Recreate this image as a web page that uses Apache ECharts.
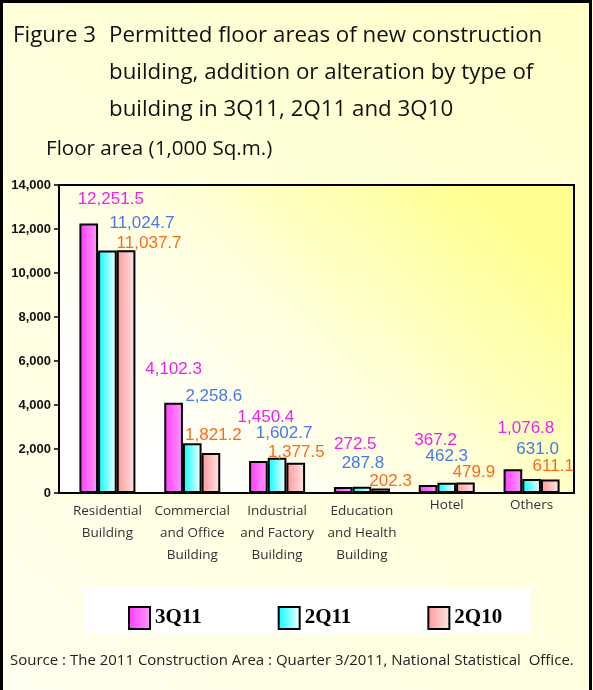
<!DOCTYPE html>
<html>
<head>
<meta charset="utf-8">
<script src="https://cdn.jsdelivr.net/npm/echarts@6/dist/echarts.min.js"></script>
<style>
  html, body { margin: 0; padding: 0; }
  #chart { width: 593px; height: 690px; }
</style>
</head>
<body>
<div id="chart"></div>
<script>
// building types (x axis)
const categories = [
  'Residential\nBuilding',
  'Commercial\nand Office\nBuilding',
  'Industrial\nand Factory\nBuilding',
  'Education\nand Health\nBuilding',
  'Hotel',
  'Others'
];
const seriesNames = ['3Q11', '2Q11', '2Q10'];
// floor area, 1,000 sq.m.
const values3Q11 = [12251.5, 4102.3, 1450.4, 272.5, 367.2, 1076.8];
const values2Q11 = [11024.7, 2258.6, 1602.7, 287.8, 462.3, 631.0];
const values2Q10 = [11037.7, 1821.2, 1377.5, 202.3, 479.9, 611.1];
const yTicks = { min: 0, max: 14000, interval: 2000 };

// where each value label sits relative to the top of its bar (as in the original chart)
const labelShift = [
  [[22, -16], [0, -25], [7.5, -35.5], [12, -34.5], [7.5, -36], [13, -32]],
  [[34.5, -19], [21.5, -38.5], [7, -16], [1, -15], [0, -18], [6, -21.5]],
  [[23, 2], [2.5, -9.5], [0.5, -2], [10, 1], [8.5, -2], [3, -5]]
];

const fills = [
  ['#FF3CFF', '#FF9CFF'],
  ['#00FFFF', '#FFFFFF'],
  ['#FF9696', '#FFE8E8']
];
const labelColors = ['#F020F0', '#4A78E8', '#FF6A1A'];
const textFont = 'Open Sans, Noto Sans, sans-serif';

// plot frame (the axis sits a little left of the first category, as in the source chart)
const plotBox = { left: 59, top: 185, right: 574, bottom: 493 };
const axisInset = 6;

const chartDom = document.getElementById('chart');
const myChart = echarts.init(chartDom);

const fmt = v => v.toLocaleString('en-US', { minimumFractionDigits: 1, maximumFractionDigits: 1 });

const makeSeries = (name, values, idx) => {
  const grad = new echarts.graphic.LinearGradient(0, 0, 1, 0, [
    { offset: 0, color: fills[idx][0] },
    { offset: 1, color: fills[idx][1] }
  ]);
  return {
    name: name,
    type: 'bar',
    barGap: '0%',
    barCategoryGap: '34%',
    itemStyle: {
      color: grad,
      borderColor: '#000',
      borderWidth: 2
    },
    data: values.map((v, i) => ({
      value: v,
      label: { offset: labelShift[idx][i] }
    })),
    label: {
      show: true,
      position: 'top',
      distance: 0,
      fontFamily: 'Liberation Sans, Arial, sans-serif',
      fontSize: 17,
      color: labelColors[idx],
      formatter: p => fmt(p.value)
    },
    z: 3
  };
};

const option = {
  backgroundColor: new echarts.graphic.LinearGradient(1, 0, 0, 1, [
    { offset: 0, color: '#FFFFC8' },
    { offset: 0.5, color: '#FFFFDE' },
    { offset: 1, color: '#FFFFEE' }
  ]),
  animation: false,
  grid: {
    left: plotBox.left + axisInset,
    right: 593 - plotBox.right,
    top: plotBox.top,
    bottom: 690 - plotBox.bottom,
    show: false
  },
  legend: {
    left: 123,
    top: 601,
    itemWidth: 21,
    itemHeight: 22,
    itemGap: 76,
    icon: 'rect',
    data: seriesNames,
    itemStyle: { borderColor: '#000', borderWidth: 2 },
    textStyle: {
      fontFamily: 'Liberation Serif, Times New Roman, serif',
      fontWeight: 'bold',
      fontSize: 21,
      color: '#000',
      padding: [4, 0, 0, 0]
    }
  },
  xAxis: {
    type: 'category',
    data: categories.map((c, i) => (i >= 4 ? { value: c, textStyle: { lineHeight: 10 } } : c)),
    axisLine: { lineStyle: { color: '#000', width: 2 } },
    axisTick: { show: false },
    axisLabel: {
      interval: 0,
      margin: 7,
      fontFamily: textFont,
      fontSize: 13.5,
      lineHeight: 22,
      color: '#333'
    }
  },
  yAxis: {
    type: 'value',
    min: yTicks.min,
    max: yTicks.max,
    interval: yTicks.interval,
    offset: axisInset,
    splitLine: { show: false },
    axisLine: { show: true, lineStyle: { color: '#000', width: 2 } },
    axisTick: { show: true, length: 5, lineStyle: { color: '#000', width: 1.5 } },
    axisLabel: {
      margin: 8,
      fontFamily: 'Liberation Sans, Arial, sans-serif',
      fontWeight: 'bold',
      fontSize: 13,
      color: '#111',
      formatter: v => v.toLocaleString('en-US')
    }
  },
  graphic: [
    // frame round the whole figure
    {
      type: 'polyline',
      shape: { points: [[1.5, 690], [1.5, 1.5], [590.5, 1.5], [590.5, 690]] },
      style: { stroke: '#000', lineWidth: 3, fill: null },
      z: 10
    },
    // plot area fill and frame
    {
      type: 'rect',
      shape: {
        x: plotBox.left,
        y: plotBox.top,
        width: plotBox.right - plotBox.left,
        height: plotBox.bottom - plotBox.top
      },
      style: {
        fill: new echarts.graphic.LinearGradient(0.8, 0, 0.25, 1, [
          { offset: 0, color: '#FFFF90' },
          { offset: 0.55, color: '#FFFFE0' },
          { offset: 1, color: '#FFFFFF' }
        ]),
        stroke: '#000',
        lineWidth: 2
      },
      z: -1
    },
    // white box behind legend
    {
      type: 'rect',
      shape: { x: 84, y: 588, width: 447, height: 45 },
      style: { fill: '#FFFFFF' },
      z: -1
    },
    {
      type: 'text',
      left: 13,
      top: 17,
      style: { text: 'Figure 3', fontFamily: textFont, fontSize: 22.3, lineHeight: 37, fill: '#111' }
    },
    {
      type: 'text',
      left: 109,
      top: 17,
      style: {
        text: 'Permitted floor areas of new construction\nbuilding, addition or alteration by type of\nbuilding in 3Q11, 2Q11 and 3Q10',
        fontFamily: textFont,
        fontSize: 22.3,
        lineHeight: 37,
        fill: '#111'
      }
    },
    {
      type: 'text',
      left: 46,
      top: 139,
      style: { text: 'Floor area (1,000 Sq.m.)', fontFamily: textFont, fontSize: 20.6, fill: '#111' }
    },
    {
      type: 'text',
      left: 10,
      top: 653,
      style: {
        text: 'Source : The 2011 Construction Area : Quarter 3/2011, National Statistical  Office.',
        fontFamily: textFont,
        fontSize: 15,
        fill: '#222'
      }
    }
  ],
  series: [
    makeSeries(seriesNames[0], values3Q11, 0),
    makeSeries(seriesNames[1], values2Q11, 1),
    makeSeries(seriesNames[2], values2Q10, 2)
  ]
};

myChart.setOption(option);
window.addEventListener('resize', () => {
  myChart.resize();
});
</script>
</body>
</html>
